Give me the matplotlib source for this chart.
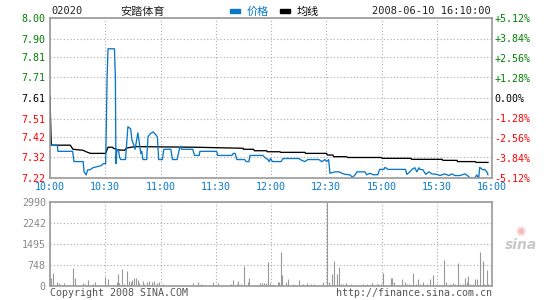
import matplotlib
matplotlib.use("Agg")
from matplotlib import pyplot as plt

# minutes from 10:00 (afternoon session continues after 12:30)
price_min = [0, 4, 4.3, 12.3, 13, 18, 18.5, 19.6, 20.5, 21.7, 23.3, 27.7, 29, 30.2, 30.5, 31, 31.5,
             35, 35.5, 35.8, 36.3, 37.3, 37.8, 38.5, 41, 42.3, 43.8, 44.5, 45.5, 46.2, 47.7, 48.3,
             49.3, 49.8, 50.5, 52.5, 53.2, 54.3, 56, 57.5, 58.3, 59, 61, 61.8, 65.6, 66.5, 69, 70,
             70.6, 71.5, 77.5, 78.5, 81, 81.4, 90.5, 91, 98.8, 99.5, 100.5, 101.5, 105.7, 106.5,
             108, 108.6, 115.6, 116.7, 118.3, 119, 119.7, 120.8, 125.4, 126.6, 135.3, 135.8, 138.4,
             140, 146, 147.6, 149.3, 150.2, 151.3, 152, 154.8, 157, 158.5, 160.2, 163, 164.2, 165.6,
             166.7, 171, 172, 173.8, 175.4, 178, 179, 181.3, 181.9, 183.5, 193, 193.8, 195.4, 196.5,
             198.1, 199.2, 200.3, 200.8, 202.5, 204, 205.8, 207.4, 210, 211.7, 214.4, 216.6, 218.2,
             219.8, 222.6, 225.3, 227, 228, 230.7, 231.7, 232.8, 233.3, 235, 236, 237.2, 237.8]
price = [7.38, 7.38, 7.35, 7.35, 7.30, 7.30, 7.25, 7.235, 7.26, 7.26, 7.27, 7.28, 7.29, 7.29, 7.43,
         7.71, 7.85, 7.85, 7.71, 7.29, 7.36, 7.35, 7.32, 7.31, 7.31, 7.47, 7.46, 7.405, 7.38, 7.36,
         7.44, 7.405, 7.34, 7.35, 7.31, 7.31, 7.42, 7.435, 7.445, 7.43, 7.42, 7.31, 7.31, 7.36, 7.36,
         7.31, 7.31, 7.35, 7.375, 7.36, 7.36, 7.33, 7.33, 7.35, 7.35, 7.33, 7.33, 7.34, 7.34, 7.31,
         7.31, 7.30, 7.30, 7.33, 7.33, 7.32, 7.31, 7.30, 7.315, 7.30, 7.30, 7.315, 7.315, 7.31, 7.30,
         7.31, 7.31, 7.30, 7.31, 7.30, 7.31, 7.243, 7.25, 7.25, 7.243, 7.238, 7.235, 7.223, 7.235,
         7.25, 7.25, 7.236, 7.243, 7.236, 7.236, 7.262, 7.262, 7.272, 7.262, 7.262, 7.238, 7.25,
         7.262, 7.27, 7.25, 7.27, 7.262, 7.26, 7.238, 7.25, 7.24, 7.238, 7.232, 7.24, 7.232, 7.24,
         7.232, 7.232, 7.24, 7.23, 7.22, 7.22, 7.235, 7.22, 7.272, 7.26, 7.262, 7.25, 7.236]

avg_min = [0, 0.3, 0.7, 11, 12.5, 18, 19.6, 22, 30.2, 31.5, 33.8, 34.5, 37, 40.5, 41.5, 44, 47,
           78.7, 104.8, 105, 110.5, 111, 117.6, 118, 124.9, 125.2, 138.4, 138.8, 150.2, 150.6,
           153.6, 154, 161, 161.5, 180, 180.3, 196, 196.3, 213, 213.3, 221, 221.3, 231, 231.3, 237.8]
avg = [7.62, 7.50, 7.38, 7.38, 7.36, 7.355, 7.348, 7.34, 7.34, 7.37, 7.37, 7.365, 7.357, 7.355,
       7.366, 7.37, 7.373, 7.37, 7.365, 7.36, 7.36, 7.353, 7.353, 7.348, 7.348, 7.345, 7.345,
       7.34, 7.34, 7.332, 7.332, 7.324, 7.324, 7.32, 7.32, 7.316, 7.316, 7.311, 7.311, 7.306,
       7.306, 7.30, 7.30, 7.296, 7.296]

vol_min = [0.4, 1.8, 3.6, 4.7, 7.8, 12.3, 13.6, 18, 19, 20.8, 23.5, 24.4, 30, 31.7, 36.2, 37, 37.6,
           38.9, 40.2, 42, 42.7, 43.8, 44.7, 45.6, 46.7, 47.6, 48.5, 50.3, 51.2, 52.5, 54, 55.2,
           56.5, 58, 59.4, 61.5, 64.6, 67.6, 69.6, 71.5, 74.2, 77.8, 80.5, 82, 84, 86.5, 88.7, 91.4,
           98.3, 99.5, 101.4, 102.2, 103.5, 105.5, 107.7, 108.2, 114, 114.9, 116.3, 117.2, 118.5,
           119.4, 121.3, 123.6, 124.5, 125.6, 126.1, 128.1, 129.4, 132, 135.3, 137.5, 139.9, 139.4,
           141.5, 143.5, 148.4, 150.2, 151.5, 153.3, 154.4, 155.6, 157, 158, 159.2, 160.5, 163.2,
           164.7, 166.5, 168.3, 170, 172.3, 174.7, 177.4, 175, 178.2, 179.5, 181, 185, 185.7, 186.6,
           191.3, 192.7, 194, 195, 197.2, 198.5, 200, 200.9, 202.7, 204.5, 206.3, 208, 210.4, 212.9,
           214.1, 215, 217.1, 218.6, 219.8, 221.7, 222.6, 224.1, 225.3, 226.2, 227.1, 228, 229.5,
           230.7, 231.6, 233.6, 234.9, 235.8, 237.1, 238]
volume = [295, 473, 153, 118, 95, 650, 295, 95, 60, 213, 60, 150, 330, 250, 150, 427, 95, 605, 70,
          534, 190, 150, 213, 270, 295, 230, 120, 190, 60, 150, 190, 150, 190, 110, 130, 60, 40, 40,
          40, 40, 40, 118, 150, 60, 50, 50, 150, 110, 60, 213, 60, 190, 70, 712, 150, 295, 110, 110,
          110, 110, 865, 110, 80, 130, 150, 1222, 391, 160, 250, 60, 213, 60, 40, 120, 80, 80, 150,
          2990, 150, 427, 890, 427, 665, 80, 60, 110, 60, 40, 40, 40, 60, 80, 60, 60, 100, 60, 60,
          450, 270, 270, 130, 250, 150, 80, 80, 473, 60, 250, 60, 160, 60, 250, 391, 60, 40, 925,
          150, 60, 120, 80, 830, 60, 60, 270, 150, 350, 80, 60, 250, 250, 1200, 890, 80, 570, 60]

x_ticks = [0, 30, 60, 90, 120, 150, 180, 210, 240]
x_labels = ["10:00", "10:30", "11:00", "11:30", "12:00", "12:30", "15:00", "15:30", "16:00"]
p_ticks = [7.22, 7.32, 7.42, 7.51, 7.61, 7.71, 7.81, 7.90, 8.00]
pct_labels = ["-5.12%", "-3.84%", "-2.56%", "-1.28%", "0.00%", "+1.28%", "+2.56%", "+3.84%", "+5.12%"]
v_ticks = [0, 748, 1495, 2242, 2990]

mono = "DejaVu Sans Mono"
cjk = ["Noto Sans CJK SC", "DejaVu Sans"]
blue = "#0a78c8"
grey = "#999999"
tick_cols = ["red"] * 4 + ["black"] + ["green"] * 4

fig = plt.figure(figsize=(5.45, 3.0), dpi=100)
fig.patch.set_facecolor("white")

ax = fig.add_axes([50 / 545, 122 / 300, 442 / 545, 160 / 300])
ax.plot(avg_min, avg, color="black", lw=0.95)
ax.plot(price_min, price, color=blue, lw=0.95)
ax.set_xlim(0, 240)
ax.set_ylim(7.22, 8.00)
ax.set_yticks(p_ticks)
ax.set_yticklabels(["%.2f" % p for p in p_ticks], family=mono, fontsize=7.2)
for lab, c in zip(ax.get_yticklabels(), tick_cols):
    lab.set_color(c)
ax.set_xticks(x_ticks)
ax.set_xticklabels(x_labels, family=mono, fontsize=7.2, color=blue)
ax.tick_params(length=0, pad=3)
ax.grid(True, color="#aaaaaa", ls=(0, (1, 2)), lw=0.8)
for s in ax.spines.values():
    s.set_color(grey)
    s.set_linewidth(1.2)

ax2 = ax.twinx()
ax2.set_ylim(-5.12, 5.12)
ax2.set_yticks([-5.12 + 1.28 * i for i in range(9)])
ax2.set_yticklabels(pct_labels, family=mono, fontsize=7.2)
for lab, c in zip(ax2.get_yticklabels(), tick_cols):
    lab.set_color(c)
ax2.tick_params(length=0, pad=1.5)
for s in ax2.spines.values():
    s.set_visible(False)

vx = fig.add_axes([50 / 545, 14 / 300, 442 / 545, 84 / 300])
vx.vlines(vol_min, 0, volume, color=grey, lw=0.8)
vx.set_xlim(0, 240)
vx.set_ylim(0, 2990)
vx.set_xticks(x_ticks)
vx.set_xticklabels([])
vx.set_yticks(v_ticks)
vx.set_yticklabels([str(v) for v in v_ticks], family=mono, fontsize=7.2, color="#888888")
vx.tick_params(length=0, pad=3)
vx.grid(True, color="#aaaaaa", ls=(0, (1, 2)), lw=0.8)
for s in vx.spines.values():
    s.set_color(grey)
    s.set_linewidth(1.2)

# header
fig.text(51 / 545, 1 - 11.5 / 300, "02020", family=mono, fontsize=7.5, va="center", color="#222222")
fig.text(120 / 545, 1 - 11.5 / 300, "安踏体育", family=cjk, fontsize=8, va="center", color="#222222")
fig.patches.append(plt.Rectangle((230 / 545, 1 - 12.5 / 300), 10 / 545, 3 / 300,
                                 transform=fig.transFigure, color=blue))
fig.text(247 / 545, 1 - 11.5 / 300, "价格", family=cjk, fontsize=8, va="center", color=blue)
fig.patches.append(plt.Rectangle((280 / 545, 1 - 12.5 / 300), 10 / 545, 3 / 300,
                                 transform=fig.transFigure, color="black"))
fig.text(297 / 545, 1 - 11.5 / 300, "均线", family=cjk, fontsize=8, va="center", color="black")
fig.text(491 / 545, 1 - 11.5 / 300, "2008-06-10 16:10:00", family=mono, fontsize=7.5,
         va="center", ha="right", color="#222222")

# footer
fig.text(50 / 545, 1 - 293 / 300, "Copyright 2008 SINA.COM", family=mono, fontsize=7.2,
         va="center", color="#555555")
fig.text(492 / 545, 1 - 293 / 300, "http://finance.sina.com.cn", family=mono, fontsize=7.2,
         va="center", ha="right", color="#555555")
fig.text(521 / 545, 1 - 245 / 300, "sina", fontsize=10, style="italic", weight="bold",
         va="center", ha="center", color="#c8c8c8")
fig.text(521 / 545, 1 - 232 / 300, "✺", fontsize=9, va="center", ha="center", color="#f4b8b8")

fig.savefig("out.png", dpi=100)
